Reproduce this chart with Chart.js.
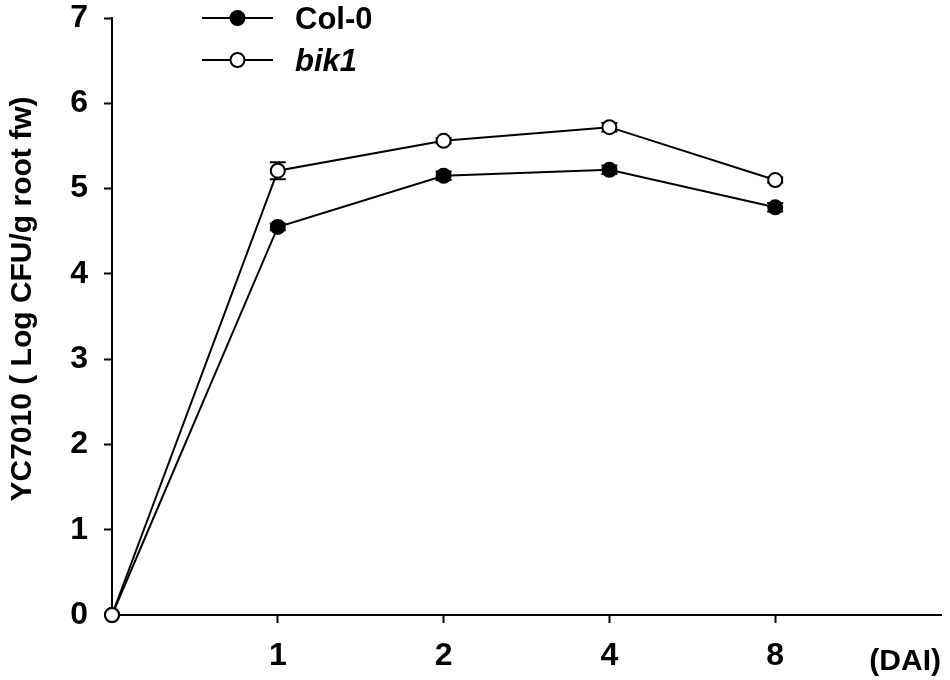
<!DOCTYPE html>
<html>
<head>
<meta charset="utf-8">
<script src="https://cdn.jsdelivr.net/npm/chart.js@4.4.1/dist/chart.umd.min.js"></script>
<style>
  html, body { margin: 0; padding: 0; background: #fff; }
  #wrap { width: 950px; height: 680px; position: relative; }
</style>
</head>
<body>
<div id="wrap"><canvas id="c" width="950" height="680"></canvas></div>
<script>
// ---- data ----
const dayLabels = ['', '1', '2', '4', '8'];
const col0 = [0, 4.55, 5.15, 5.22, 4.78];
const col0Err = [0, 0.04, 0.05, 0.05, 0.05];
const bik1 = [0, 5.21, 5.56, 5.72, 5.10];
const bik1Err = [0, 0.10, 0.03, 0.05, 0.03];
const seriesNames = ['Col-0', 'bik1'];
const yTitle = 'YC7010 ( Log CFU/g root fw)';
const xUnit = '(DAI)';

const FONT = "'Liberation Sans', Arial, sans-serif";

const toPts = arr => arr.map((v, i) => ({ x: i, y: v }));

const errorBars = {
  id: 'errorBars',
  beforeDatasetsDraw(chart) {
    const ctx = chart.ctx;
    const xs = chart.scales.x, ys = chart.scales.y;
    chart.data.datasets.forEach(ds => {
      const errs = ds.errors || [];
      ds.data.forEach((p, i) => {
        const e = errs[i];
        if (!e) return;
        const px = xs.getPixelForValue(p.x);
        const y1 = ys.getPixelForValue(p.y + e);
        const y2 = ys.getPixelForValue(p.y - e);
        ctx.save();
        ctx.strokeStyle = '#000';
        ctx.lineWidth = 2;
        ctx.beginPath();
        ctx.moveTo(px, y1); ctx.lineTo(px, y2);
        ctx.moveTo(px - 8, y1); ctx.lineTo(px + 8, y1);
        ctx.moveTo(px - 8, y2); ctx.lineTo(px + 8, y2);
        ctx.stroke();
        ctx.restore();
      });
    });
  }
};

const customLegend = {
  id: 'customLegend',
  afterDraw(chart, args, opts) {
    const ctx = chart.ctx;
    chart.data.datasets.forEach((ds, i) => {
      const y = opts.y + i * opts.rowGap;
      ctx.save();
      ctx.strokeStyle = '#000';
      ctx.lineWidth = 2;
      ctx.beginPath();
      ctx.moveTo(opts.x, y); ctx.lineTo(opts.x + opts.lineLen, y);
      ctx.stroke();
      ctx.beginPath();
      ctx.arc(opts.x + opts.lineLen / 2, y, 7, 0, Math.PI * 2);
      ctx.fillStyle = ds.pointBackgroundColor;
      ctx.fill();
      ctx.stroke();
      ctx.fillStyle = '#000';
      ctx.font = (i === 1 ? 'italic ' : '') + 'bold 31px ' + FONT;
      ctx.textBaseline = 'middle';
      ctx.fillText(ds.label, opts.x + opts.lineLen + 22, y + 2);
      ctx.restore();
    });
  }
};

const yAxisTitle = {
  id: 'yAxisTitle',
  afterDraw(chart, args, opts) {
    const ctx = chart.ctx;
    ctx.save();
    ctx.translate(opts.x, opts.y);
    ctx.rotate(-Math.PI / 2);
    ctx.fillStyle = '#000';
    ctx.font = 'bold 30px ' + FONT;
    ctx.textAlign = 'center';
    ctx.textBaseline = 'middle';
    ctx.fillText(opts.text, 0, 0);
    ctx.restore();
  }
};

new Chart(document.getElementById('c'), {
  type: 'line',
  data: {
    datasets: [
      {
        label: seriesNames[0], data: toPts(col0), errors: col0Err,
        borderColor: '#000', borderWidth: 2, clip: false,
        pointBackgroundColor: '#000', pointBorderColor: '#000',
        pointRadius: 7, pointBorderWidth: 2, order: 1
      },
      {
        label: seriesNames[1], data: toPts(bik1), errors: bik1Err,
        borderColor: '#000', borderWidth: 2, clip: false,
        pointBackgroundColor: '#fff', pointBorderColor: '#000',
        pointRadius: 7, pointBorderWidth: 2, order: 0
      }
    ]
  },
  options: {
    responsive: false,
    animation: false,
    devicePixelRatio: 1,
    layout: { padding: { top: 18, right: 8, left: 0, bottom: 0 } },
    plugins: {
      legend: { display: false },
      tooltip: { enabled: false },
      customLegend: { x: 202, y: 18, lineLen: 71, rowGap: 42 },
      yAxisTitle: { text: yTitle, x: 23, y: 299 }
    },
    scales: {
      x: {
        type: 'linear', min: 0, max: 5,
        afterBuildTicks: s => { s.ticks = [1, 2, 3, 4].map(v => ({ value: v })); },
        afterFit: s => { s.height = 65; },
        grid: { drawOnChartArea: false, drawTicks: true, tickLength: 8, tickColor: '#000', tickWidth: 2 },
        border: { color: '#000', width: 2 },
        ticks: {
          color: '#000', padding: 14, maxRotation: 0, autoSkip: false,
          font: { family: FONT, size: 32, weight: 'bold' },
          callback: v => dayLabels[v] ?? ''
        },
        title: {
          display: true, text: xUnit, align: 'end', color: '#000',
          font: { family: FONT, size: 30, weight: 'bold' },
          padding: { top: -40, bottom: 0 }
        }
      },
      y: {
        min: 0, max: 7,
        afterFit: s => { s.width = 112; s.paddingTop = 0; s.paddingBottom = 0; },
        grid: { drawOnChartArea: false, drawTicks: true, tickLength: 8, tickColor: '#000', tickWidth: 2 },
        border: { color: '#000', width: 2 },
        ticks: {
          stepSize: 1, color: '#000', padding: 16,
          font: { family: FONT, size: 32, weight: 'bold' }
        },
        title: { display: false }
      }
    }
  },
  plugins: [errorBars, customLegend, yAxisTitle]
});
</script>
</body>
</html>
